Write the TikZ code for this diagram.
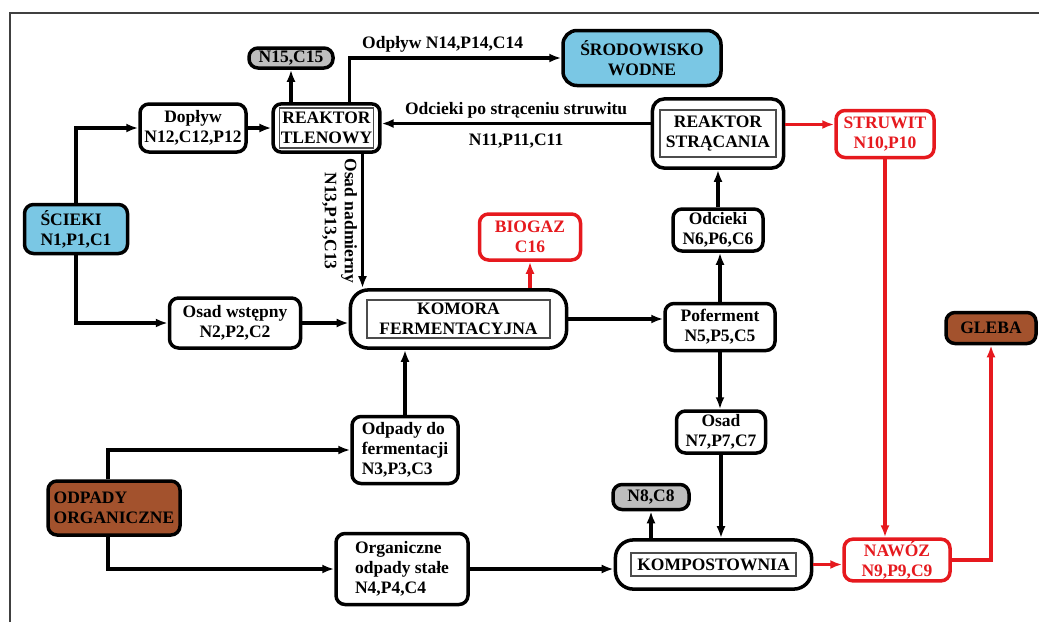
\documentclass[tikz,border=0pt]{standalone}
\usepackage{fontspec}
\setmainfont{Liberation Serif}
\usetikzlibrary{arrows.meta,positioning,fit,calc}
\definecolor{niebieski}{RGB}{122,199,228}
\definecolor{brazowy}{RGB}{163,82,45}
\definecolor{szary}{RGB}{190,190,190}
\definecolor{czerwony}{RGB}{230,25,30}
\tikzset{blok/.style={draw, line width=3.5pt, rounded corners=9pt, fill=white, align=center, inner sep=2pt, font=\bfseries\fontsize{17.5}{20}\selectfont}}
\tikzstyle{czer}=[blok, draw=czerwony, text=czerwony]
\tikzstyle{wew}=[draw=black!70, line width=1.2pt, align=center, inner sep=1pt, font=\bfseries\fontsize{17.5}{20}\selectfont]
\tikzstyle{zew}=[draw, line width=3.5pt]
\tikzstyle{pol}=[line width=3.2pt]
\tikzstyle{lab}=[align=center, inner sep=4pt, font=\bfseries\fontsize{17.5}{20}\selectfont]

\begin{document}
\begin{tikzpicture}[>={Latex[length=12pt,width=9pt]}, x=1pt, y=-1pt]
\useasboundingbox (0,0) rectangle (1039,622);
\draw[line width=2pt, black!75] (10,622) -- (10,13) -- (1039,13);

% wejscia
\node[blok, fill=niebieski, align=left, minimum width=103pt, minimum height=49pt] (sc) at (76,229) {ŚCIEKI\\N1,P1,C1};
\node[blok, fill=brazowy, align=left, minimum width=132pt, minimum height=54pt] (oo) at (114,508) {ODPADY\\ORGANICZNE};

% reaktor tlenowy
\node[blok, fill=szary, minimum width=84pt, minimum height=20pt] (n15) at (291,58) {N15,C15};
\node[blok, minimum width=106pt, minimum height=48pt] (dp) at (193,128) {Dopływ\\N12,C12,P12};
\node[wew, minimum width=91pt, minimum height=40pt] (rtin) at (326.5,128) {REAKTOR\\TLENOWY};
\node[zew, rounded corners=8pt, fit=(rtin), inner xsep=6pt, inner ysep=3.5pt] (rt) {};
\node[blok, fill=niebieski, rounded corners=14pt, minimum width=158pt, minimum height=55pt] (sr) at (642,58) {ŚRODOWISKO\\WODNE};

% reaktor stracania
\node[wew, minimum width=116pt, minimum height=47pt] (rsin) at (718,133.5) {REAKTOR\\STRĄCANIA};
\node[zew, rounded corners=12pt, fit=(rsin), inner xsep=7pt, inner ysep=10.5pt] (rs) {};
\node[czer, minimum width=98pt, minimum height=47pt] (st) at (885,134) {STRUWIT\\N10,P10};
\node[blok, minimum width=90pt, minimum height=42pt] (od) at (718,230) {Odcieki\\N6,P6,C6};

% komora
\node[czer, minimum width=101pt, minimum height=46pt] (bg) at (530,237) {BIOGAZ\\C16};
\node[wew, minimum width=183pt, minimum height=38pt] (kmin) at (458.5,319) {KOMORA\\FERMENTACYJNA};
\node[zew, rounded corners=18pt, fit=(kmin), inner xsep=16pt, inner ysep=9.5pt] (km) {};
\node[blok, minimum width=131pt, minimum height=50pt] (ow) at (235,323) {Osad wstępny\\N2,P2,C2};
\node[blok, minimum width=110pt, minimum height=47pt] (pf) at (720,327) {Poferment\\N5,P5,C5};
\node[blok, align=left, minimum width=106pt, minimum height=67pt] (of) at (405,450) {Odpady do\\fermentacji\\N3,P3,C3};

% kompostownia
\node[blok, minimum width=89pt, minimum height=42pt] (os) at (721,432) {Osad\\N7,P7,C7};
\node[blok, fill=szary, minimum width=76pt, minimum height=25pt] (n8) at (651,497) {N8,C8};
\node[wew, minimum width=165pt, minimum height=23pt] (kpin) at (713.5,564.5) {KOMPOSTOWNIA};
\node[zew, rounded corners=18pt, fit=(kpin), inner xsep=15pt, inner ysep=12.5pt] (kp) {};
\node[blok, align=left, minimum width=132pt, minimum height=71pt] (og) at (402,569) {Organiczne\\odpady stałe\\N4,P4,C4};
\node[czer, minimum width=106pt, minimum height=40pt] (nw) at (897,560) {NAWÓZ\\N9,P9,C9};
\node[blok, fill=brazowy, minimum width=90pt, minimum height=31pt] (gl) at (991,328) {GLEBA};

\draw[pol,->] (sc.north) |- (dp.west);
\draw[pol,->] (sc.south) |- (ow.west);
\draw[pol,->] (dp.east) -- (rt.west);
\draw[pol,->] (rt.north -| n15.south) -- (n15.south);
\draw[pol,->] ([xshift=23pt]rt.north) |- (sr.west) node[lab, pos=0.72, above] {Odpływ N14,P14,C14};
\draw[pol,->] ([yshift=10pt]rs.west) -- ([yshift=10pt]rs.west -| rt.east)
  node[lab, midway, above] {Odcieki po strąceniu struwitu}
  node[lab, midway, below, yshift=-5pt] {N11,P11,C11};
\draw[pol,->] ([xshift=36pt]rt.south) -- ([xshift=36pt]rt.south |- km.north)
  node[lab, midway, anchor=north, rotate=-90] {Osad nadmierny\\N13,P13,C13};
\draw[pol,->] (ow.east) -- (ow.east -| km.west);
\draw[pol,->] (of.north) -- (of.north |- km.south);
\draw[pol,->] ([xshift=-6pt]oo.north) |- (of.west);
\draw[pol,->] ([xshift=-6pt]oo.south) |- (og.west);
\draw[pol,->] (og.east) -- (og.east -| kp.west);
\draw[pol,->] (km.east) -- (km.east -| pf.west);
\draw[pol,->] (pf.north) -- (pf.north |- od.south);
\draw[pol,->] (od.north) -- (od.north |- rs.south);
\draw[pol,->] (pf.south) -- (pf.south |- os.north);
\draw[pol,->] (os.south) -- (os.south |- kp.north);
\draw[pol,->] (kp.north -| n8.south) -- (n8.south);
% strumienie produktow
\draw[pol,czerwony,->] (km.north -| bg.south) -- (bg.south);
\draw[pol,czerwony,->] ([yshift=9pt]rs.east) -- ([yshift=9pt]rs.east -| st.west);
\draw[pol,czerwony,->] (st.south) -- (st.south |- nw.north);
\draw[pol,czerwony,->] (kp.east) -- (kp.east -| nw.west);
\draw[pol,czerwony,->] (nw.east) -| (gl.south);
\end{tikzpicture}
\end{document}
